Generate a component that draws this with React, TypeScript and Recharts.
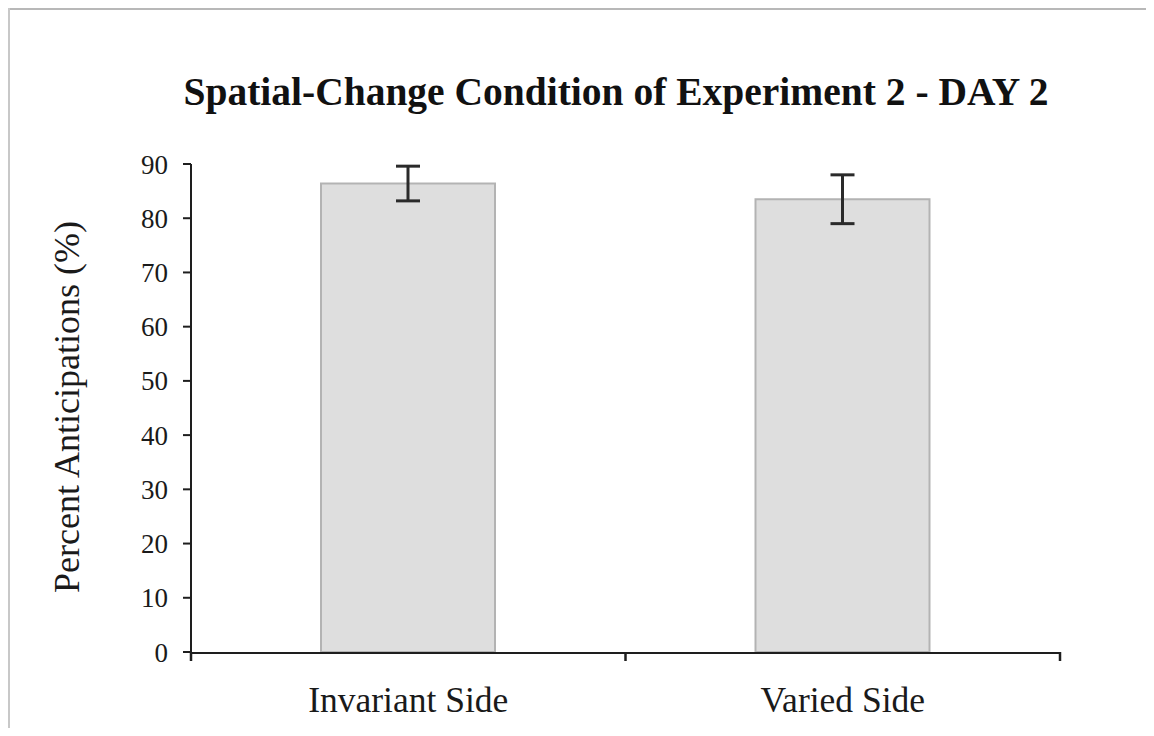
import React from "react";
import { BarChart, Bar, XAxis, YAxis, ErrorBar } from "recharts";

const categories = ["Invariant Side", "Varied Side"];
const percentValues = [86.4, 83.5];
const errorValues = [3.2, 4.5];
const yTicks = [0, 10, 20, 30, 40, 50, 60, 70, 80, 90];
// category boundaries as fractions of the category axis
const boundaryTicks = [0, 0.5, 1];

const data = categories.map((name, i) => ({
  name,
  value: percentValues[i],
  err: errorValues[i],
}));

const FONT = "'Liberation Serif', 'Times New Roman', serif";
const AXIS = "#1e1e1e";

export default function App() {
  return (
    <div style={{ position: "relative", width: 1138, height: 720 }}>
      <div
        style={{
          position: "absolute",
          left: 0,
          top: 0,
          width: 1146,
          height: 2,
          background: "#b8b8b8",
        }}
      />
      <div
        style={{
          position: "absolute",
          left: 0,
          top: 0,
          width: 2,
          height: 720,
          background: "#c8c8c8",
        }}
      />
      <div style={{ position: "absolute", left: 2, top: 2 }}>
        <BarChart
          width={1136}
          height={718}
          data={data}
          margin={{ top: 154, right: 86, bottom: 16, left: 81 }}
        >
          <XAxis
            xAxisId="a"
            type="number"
            domain={[0, 1]}
            ticks={boundaryTicks}
            interval={0}
            tick={{ fontSize: 1, fill: "none" }}
            tickFormatter={() => ""}
            axisLine={false}
            tickLine={{ stroke: AXIS, strokeWidth: 2.5 }}
            tickSize={9}
            height={1}
            allowDataOverflow
          />
          <XAxis
            xAxisId="b"
            dataKey="name"
            type="category"
            height={59}
            tickLine={false}
            tickSize={0}
            tickMargin={34}
            axisLine={{ stroke: AXIS, strokeWidth: 2 }}
            tick={{ fill: "#1a1a1a", fontSize: 35.5, fontFamily: FONT }}
          />
          <YAxis
            type="number"
            domain={[0, 90]}
            ticks={yTicks}
            interval={0}
            width={100}
            tickSize={8}
            tickMargin={15}
            axisLine={{ stroke: AXIS, strokeWidth: 2 }}
            tickLine={{ stroke: AXIS, strokeWidth: 2 }}
            tick={{ fill: "#1a1a1a", fontSize: 27, fontFamily: FONT }}
            allowDataOverflow
          />
          <Bar
            xAxisId="b"
            dataKey="value"
            fill="#dedede"
            stroke="#b3b3b3"
            strokeWidth={2}
            barSize={174}
            isAnimationActive={false}
          >
            <ErrorBar
              dataKey="err"
              width={12}
              stroke="#2a2a2a"
              strokeWidth={3}
              direction="y"
              isAnimationActive={false}
            />
          </Bar>
        </BarChart>
      </div>
      <svg
        width={1138}
        height={720}
        style={{ position: "absolute", left: 0, top: 0, pointerEvents: "none" }}
      >
        <text
          x={608}
          y={97}
          textAnchor="middle"
          fontFamily={FONT}
          fontWeight="bold"
          fontSize={39.5}
          fill="#111"
        >
          Spatial-Change Condition of Experiment 2 - DAY 2
        </text>
        <text
          transform="translate(71, 399) rotate(-90)"
          textAnchor="middle"
          fontFamily={FONT}
          fontSize={36}
          fill="#1a1a1a"
        >
          Percent Anticipations (%)
        </text>
      </svg>
    </div>
  );
}
